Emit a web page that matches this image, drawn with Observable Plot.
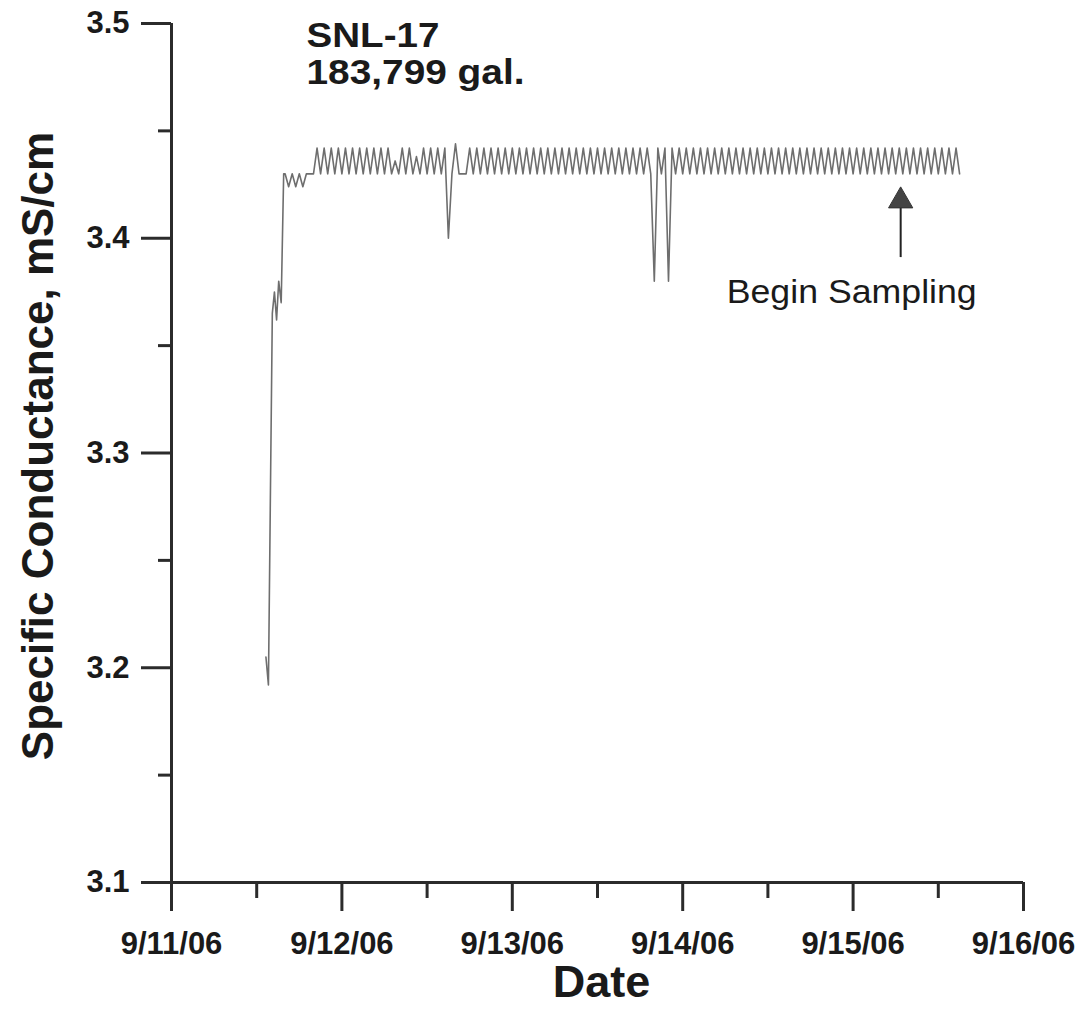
<!DOCTYPE html>
<html>
<head>
<meta charset="utf-8">
<script src="https://cdn.jsdelivr.net/npm/d3@7"></script>
<script src="https://cdn.jsdelivr.net/npm/@observablehq/plot@0.6"></script>
<style>
  html, body { margin: 0; padding: 0; background: #fff; }
</style>
</head>
<body>
<script>
// ---------------- data ----------------
const startDay = "2006-09-11";
const endDay = "2006-09-16";
const dayTicks = ["2006-09-11","2006-09-12","2006-09-13","2006-09-14","2006-09-15","2006-09-16"];
const dayTickLabels = ["9/11/06","9/12/06","9/13/06","9/14/06","9/15/06","9/16/06"];
const halfDayTicks = ["2006-09-11T12:00Z","2006-09-12T12:00Z","2006-09-13T12:00Z","2006-09-14T12:00Z","2006-09-15T12:00Z"];
const yMajorTicks = [3.1, 3.2, 3.3, 3.4, 3.5];
const yMinorTicks = [3.15, 3.25, 3.35, 3.45];

// early record: hours after 9/11/06 00:00, specific conductance (mS/cm)
const rampHours  = [13.3, 13.65, 14.2, 14.5, 14.8, 15.1, 15.45, 15.8, 16.0, 16.5, 17.0, 17.5, 18.0, 18.5, 19.0, 19.5, 20.0];
const rampValues = [3.205, 3.192, 3.365, 3.375, 3.362, 3.38, 3.37, 3.43, 3.43, 3.424, 3.43, 3.424, 3.43, 3.424, 3.43, 3.43, 3.43];

// logged readings every 30 minutes starting 9/11/06 20:30
const zigStartHour = 20.5;
const zigStepHours = 0.5;
const zigValues = [
  3.442,3.43,3.442,3.43,3.442,3.43,3.442,3.43,3.442,3.43,
  3.442,3.43,3.442,3.43,3.442,3.43,3.442,3.43,3.442,3.43,
  3.442,3.43,3.436,3.43,3.442,3.43,3.442,3.43,3.438,3.43,
  3.442,3.43,3.442,3.43,3.442,3.43,3.442,3.40,3.43,3.444,
  3.43,3.43,3.43,3.442,3.43,3.442,3.43,3.442,3.43,3.442,
  3.43,3.442,3.43,3.442,3.43,3.442,3.43,3.442,3.43,3.442,
  3.43,3.442,3.43,3.442,3.43,3.442,3.43,3.442,3.43,3.442,
  3.43,3.442,3.43,3.442,3.43,3.442,3.43,3.442,3.43,3.442,
  3.43,3.442,3.43,3.442,3.43,3.442,3.43,3.442,3.43,3.442,
  3.43,3.442,3.43,3.442,3.43,3.38,3.442,3.43,3.442,3.38,
  3.442,3.43,3.442,3.43,3.442,3.43,3.442,3.43,3.442,3.43,
  3.442,3.43,3.442,3.43,3.442,3.43,3.442,3.43,3.442,3.43,
  3.442,3.43,3.442,3.43,3.442,3.43,3.442,3.43,3.442,3.43,
  3.442,3.43,3.442,3.43,3.442,3.43,3.442,3.43,3.442,3.43,
  3.442,3.43,3.442,3.43,3.442,3.43,3.442,3.43,3.442,3.43,
  3.442,3.43,3.442,3.43,3.442,3.43,3.442,3.43,3.442,3.43,
  3.442,3.43,3.442,3.43,3.442,3.43,3.442,3.43,3.442,3.43,
  3.442,3.43,3.442,3.43,3.442,3.43,3.442,3.43,3.442,3.43,
  3.442,3.43
];

// annotation
const titleLines = ["SNL-17", "183,799 gal."];
const samplingLabel = "Begin Sampling";
const samplingHour = 102.7;
const arrowTipValue = 3.4174;
const arrowBaseValue = 3.391;
const yLabel = "Specific Conductance, mS/cm";
const xLabel = "Date";

// ---------------- build ----------------
const t0 = Date.parse(startDay + "T00:00Z");
const hourToDate = h => new Date(t0 + h * 3600e3);
const series = [];
rampHours.forEach((h, i) => series.push({t: hourToDate(h), v: rampValues[i]}));
zigValues.forEach((v, i) => series.push({t: hourToDate(zigStartHour + i * zigStepHours), v}));

const dayDates = dayTicks.map(d => new Date(d + "T00:00Z"));
const halfDates = halfDayTicks.map(d => new Date(d));
const labelOf = new Map(dayDates.map((d, i) => [+d, dayTickLabels[i]]));
const sampT = hourToDate(samplingHour);

const FONT = "'Liberation Sans', Arial, Helvetica, sans-serif";
const AX = "#2b2b2b";
const TX = "#1a1a1a";

const chart = Plot.plot({
  width: 1090,
  height: 1009,
  marginLeft: 171,
  marginRight: 67,
  marginTop: 23,
  marginBottom: 127,
  x: {type: "utc", domain: [new Date(startDay + "T00:00Z"), new Date(endDay + "T00:00Z")]},
  y: {domain: [3.1, 3.5]},
  style: {fontFamily: FONT, background: "#fff", color: AX, overflow: "visible"},
  marks: [
    // data line
    Plot.line(series, {x: "t", y: "v", stroke: "#6e6e6e", strokeWidth: 1.6}),
    // axis lines
    Plot.ruleY([3.1], {stroke: AX, strokeWidth: 3}),
    Plot.ruleX([dayDates[0]], {stroke: AX, strokeWidth: 3}),
    // x axis
    Plot.axisX({ticks: dayDates, tickSize: 29, tickPadding: 20, stroke: AX, strokeWidth: 3,
      tickFormat: d => labelOf.get(+d), fontSize: 31, fontWeight: "bold", fill: TX, label: null}),
    Plot.axisX({ticks: halfDates, tickSize: 16, stroke: AX, strokeWidth: 3, tickFormat: () => "", label: null}),
    // y axis
    Plot.axisY({ticks: yMajorTicks, tickSize: 30, tickPadding: 12, stroke: AX, strokeWidth: 3,
      tickFormat: d => d.toFixed(1), fontSize: 31, fontWeight: "bold", fill: TX, label: null}),
    Plot.axisY({ticks: yMinorTicks, tickSize: 13, stroke: AX, strokeWidth: 3, tickFormat: () => "", label: null}),
    // arrow
    Plot.ruleX([sampT], {y1: arrowBaseValue, y2: arrowTipValue, stroke: "#222", strokeWidth: 2}),
    Plot.dot([sampT], {x: d => d, y: arrowTipValue, symbol: "triangle", r: 9, fill: "#444", stroke: "#333", strokeWidth: 1}),
    // Begin sampling text
    Plot.text([samplingLabel], {x: hourToDate(95.8), y: 3.3698, lineAnchor: "bottom", textAnchor: "middle",
      fontSize: 33, fill: TX, className: "stretch-sampling"}),
    // title
    Plot.text([titleLines[0]], {frameAnchor: "top-left", dx: 135, dy: 23, lineAnchor: "bottom", textAnchor: "start",
      fontSize: 35, fontWeight: "bold", fill: TX, className: "stretch-t1"}),
    Plot.text([titleLines[1]], {frameAnchor: "top-left", dx: 135, dy: 60, lineAnchor: "bottom", textAnchor: "start",
      fontSize: 35, fontWeight: "bold", fill: TX, className: "stretch-t2"}),
    // axis titles
    Plot.text([yLabel], {frameAnchor: "left", dx: -119, dy: -7, rotate: -90, lineAnchor: "bottom", textAnchor: "middle",
      fontSize: 44, fontWeight: "bold", fill: TX}),
    Plot.text([xLabel], {frameAnchor: "bottom", dx: 4, dy: 114, lineAnchor: "bottom", textAnchor: "middle",
      fontSize: 45, fontWeight: "bold", fill: TX})
  ]
});

document.body.appendChild(chart);

// slightly wide lettering as in the reference
const stretch = {"stretch-t1": 133, "stretch-t2": 218, "stretch-sampling": 250};
for (const [cls, len] of Object.entries(stretch)) {
  chart.querySelectorAll("g." + cls + " text").forEach(t => {
    t.setAttribute("textLength", len);
    t.setAttribute("lengthAdjust", "spacingAndGlyphs");
  });
}
</script>
</body>
</html>
